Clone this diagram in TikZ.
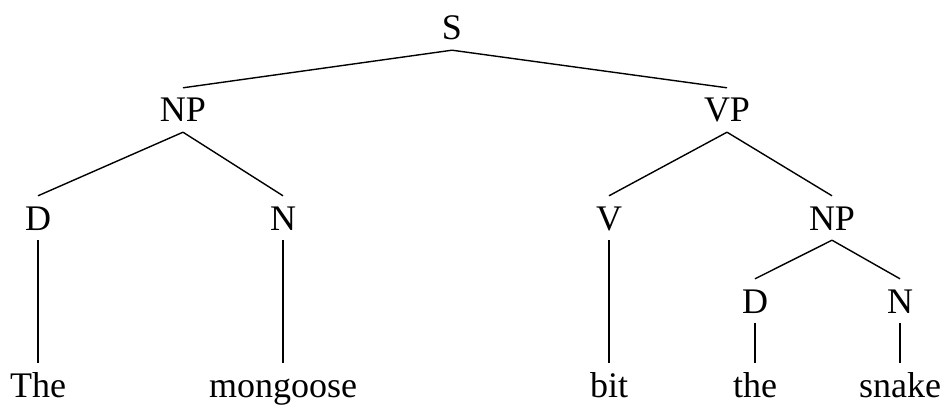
\documentclass[tikz,border=0pt]{standalone}
\usepackage{fontspec}
\setmainfont{Liberation Serif}

\begin{document}
\begin{tikzpicture}[x=1pt,y=-1pt,
  cat/.style={inner xsep=0pt,inner ysep=10pt,text height=24pt,text depth=0pt,font=\fontsize{36}{40}\selectfont},
  word/.style={cat},
  branch/.style={line width=1.4pt}
]
  \useasboundingbox (0,0) rectangle (944,406);

  % Categories
  \node[cat] (s)   at (452,28)  {S};
  \node[cat] (np)  at (183,110) {NP};
  \node[cat] (vp)  at (727,110) {VP};
  \node[cat] (d)   at (38,218)  {D};
  \node[cat] (n)   at (283,218) {N};
  \node[cat] (v)   at (609,218) {V};
  \node[cat] (np2) at (832,218) {NP};
  \node[cat] (d2)  at (755,301) {D};
  \node[cat] (n2)  at (900,301) {N};

  % Words
  \node[word] (the)      at (38,385)  {The};
  \node[word] (mongoose) at (283,385) {mongoose};
  \node[word] (bit)      at (609,385) {bit};
  \node[word] (the2)     at (755,385) {the};
  \node[word] (snake)    at (900,385) {snake};

  % Branches
  \foreach \a/\b in {s/np,s/vp,np/d,np/n,vp/v,vp/np2,np2/d2,np2/n2}{
    \draw[branch] (\a.south) -- (\b.north);
  }
  % Lexical branches
  \foreach \a/\b in {d/the,n/mongoose,v/bit,d2/the2,n2/snake}{
    \draw[branch] (\a.south) -- (\b.north);
  }
\end{tikzpicture}
\end{document}
